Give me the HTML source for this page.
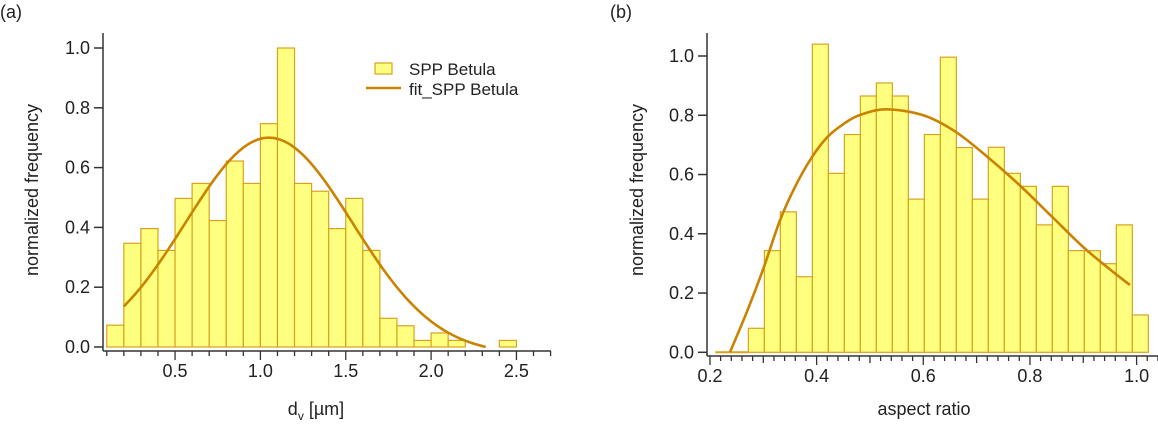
<!DOCTYPE html>
<html><head><meta charset="utf-8">
<style>
body{margin:0;background:#fff;width:1158px;height:422px;overflow:hidden}
svg text{font-family:"Liberation Sans",sans-serif;fill:#222}
</style></head>
<body>
<svg id="chart" width="1158" height="422" xmlns="http://www.w3.org/2000/svg"></svg>
<script>
// Panel A data
const binsA = [0.1,0.2,0.3,0.4,0.5,0.6,0.7,0.8,0.9,1.0,1.1,1.2,1.3,1.4,1.5,1.6,1.7,1.8,1.9,2.0,2.1,2.2,2.3,2.4];
const valuesA = [0.073,0.347,0.396,0.323,0.497,0.547,0.423,0.622,0.547,0.747,1.0,0.547,0.521,0.396,0.497,0.323,0.096,0.071,0.022,0.047,0.022,0,0,0.022];
const binWidthA = 0.1;
const fitParamsA = [0.725, 1.05, 0.49, -0.025]; // amplitude, center, sigma, offset
const fitRangeA = [0.2, 2.32];
const xTicksA = [0.5,1.0,1.5,2.0,2.5];
const yTicks = [0,0.2,0.4,0.6,0.8,1.0];
// Panel B data
const binsB = [0.272,0.302,0.332,0.362,0.392,0.422,0.452,0.482,0.512,0.542,0.572,0.602,0.632,0.662,0.692,0.722,0.752,0.782,0.812,0.842,0.872,0.902,0.932,0.962,0.992];
const valuesB = [0.081,0.343,0.474,0.255,1.04,0.604,0.735,0.865,0.909,0.865,0.517,0.735,0.996,0.691,0.517,0.692,0.604,0.56,0.43,0.56,0.343,0.343,0.299,0.43,0.126];
const binWidthB = 0.03;
const fitXB = [0.2375,0.27,0.301,0.331,0.36,0.391,0.42,0.45,0.48,0.53,0.6,0.66,0.72,0.78,0.84,0.9,0.95,0.9875];
const fitYB = [0,0.14,0.287,0.444,0.56,0.658,0.726,0.77,0.8,0.82,0.8,0.745,0.66,0.565,0.46,0.355,0.28,0.227];
const xTicksB = [0.2,0.4,0.6,0.8,1.0];

const NS="http://www.w3.org/2000/svg";
const svg=document.getElementById('chart');
function mk(tag,attrs,parent){const e=document.createElementNS(NS,tag);for(const k in attrs)e.setAttribute(k,attrs[k]);(parent||svg).appendChild(e);return e;}
const FILL="#ffff80",STROKE="#d9a21e",FIT="#c98300",FS=18;

function smoothPath(pts){
  let d='M'+pts[0][0]+','+pts[0][1];
  for(let i=0;i<pts.length-1;i++){
    const p0=pts[Math.max(0,i-1)],p1=pts[i],p2=pts[i+1],p3=pts[Math.min(pts.length-1,i+2)];
    const c1=[p1[0]+(p2[0]-p0[0])/6,p1[1]+(p2[1]-p0[1])/6];
    const c2=[p2[0]-(p3[0]-p1[0])/6,p2[1]-(p3[1]-p1[1])/6];
    d+=` C${c1[0]},${c1[1]} ${c2[0]},${c2[1]} ${p2[0]},${p2[1]}`;
  }
  return d;
}

function panel(o){
  const g=mk('g',{});
  
  
  const X=v=>o.x0+v*o.xs, Y=v=>o.y0-v*o.ys;
  o.bins.forEach((b,i)=>{
    const r=mk('rect',{x:X(b),y:Y(o.vals[i]),width:X(b+o.bw)-X(b),height:Y(0)-Y(o.vals[i]),fill:FILL,stroke:STROKE,'stroke-width':1.2},g);
    
    
  });
  if(o.base){const l=mk('line',{x1:X(o.base[0]),x2:X(o.base[1]),y1:Y(0),y2:Y(0),stroke:STROKE,'stroke-width':2},g);
    }
  const p=mk('path',{d:smoothPath(o.fit.map(q=>[X(q[0]),Y(q[1])])),fill:'none',stroke:FIT,'stroke-width':2.6,'stroke-linejoin':'round'},g);
  
  
  const ya=mk('g',{},g);
  
  mk('line',{x1:o.ax,x2:o.ax,y1:o.yTop,y2:o.xAxY,stroke:'#333','stroke-width':1.5},ya);
  yTicks.forEach(t=>{mk('line',{x1:o.ax-9,x2:o.ax,y1:Y(t),y2:Y(t),stroke:'#333','stroke-width':1.5},ya);
    const tx=mk('text',{x:o.ax-13,y:Y(t)+6,'text-anchor':'end','font-size':FS},ya);tx.textContent=t.toFixed(1);
    });
  const xa=mk('g',{},g);
  
  mk('line',{x1:o.ax,x2:o.xRight,y1:o.xAxY,y2:o.xAxY,stroke:'#333','stroke-width':1.5},xa);
  for(let v=o.minStart;v<=o.minEnd+1e-9;v+=o.minStep){
    const maj=o.xTicks.some(t=>Math.abs(t-v)<1e-6);
    const mid=o.midStep&&Math.abs(v/o.midStep-Math.round(v/o.midStep))<1e-6;
    mk('line',{x1:X(v),x2:X(v),y1:o.xAxY,y2:o.xAxY+(maj?9:(mid?7:5)),stroke:'#333','stroke-width':1.3},xa);
  }
  o.xTicks.forEach(t=>{const tx=mk('text',{x:X(t),y:o.xAxY+26,'text-anchor':'middle','font-size':FS},xa);tx.textContent=t.toFixed(1);
    });
  const yt=mk('text',{x:0,y:0,'text-anchor':'middle','font-size':FS,transform:`translate(${o.ytX},190) rotate(-90)`},g);
  yt.textContent='normalized frequency';
  
  const xt=mk('text',{x:o.xtX,y:415,'text-anchor':'middle','font-size':FS},g);
  xt.innerHTML=o.xTitle;
  
  const pl=mk('text',{x:o.lblX,y:18,'font-size':FS},g);pl.textContent=o.label;
  
}

const fitA=[];
for(let i=0;i<=80;i++){const x=fitRangeA[0]+(fitRangeA[1]-fitRangeA[0])*i/80;
  fitA.push([x,Math.max(0,fitParamsA[0]*Math.exp(-Math.pow(x-fitParamsA[1],2)/(2*fitParamsA[2]*fitParamsA[2]))+fitParamsA[3])]);}

panel({name:'panel-a',x0:89.7,xs:170.7,y0:347,ys:299,bins:binsA,vals:valuesA,bw:binWidthA,fit:fitA,
  ax:103,yTop:33,xAxY:351,xRight:551,minStart:0.1,minEnd:2.7,minStep:0.1,xTicks:xTicksA,
  ytX:38,xtX:316,xTitle:'d<tspan font-size="12" dy="5">v</tspan><tspan dy="-5"> [µm]</tspan>',lblX:0,label:'(a)'});
const fitB=fitXB.map((x,i)=>[x,fitYB[i]]);
panel({name:'panel-b',x0:603.3,xs:533.3,y0:352.3,ys:296.3,bins:binsB,vals:valuesB,bw:binWidthB,fit:fitB,base:[0.21,0.272],
  ax:707,yTop:33,xAxY:356,xRight:1158,minStart:0.2,minEnd:1.06,minStep:0.02,midStep:0.1,xTicks:xTicksB,
  ytX:643,xtX:924,xTitle:'aspect ratio',lblX:610,label:'(b)'});

const lg=mk('g',{});

const e1=mk('g',{},lg);
mk('rect',{x:375,y:63,width:17,height:11,fill:FILL,stroke:STROKE,'stroke-width':1.2},e1);
const t1=mk('text',{x:409,y:75,'font-size':17},e1);t1.textContent='SPP Betula';
const e2=mk('g',{},lg);
mk('line',{x1:366,x2:401,y1:88,y2:88,stroke:FIT,'stroke-width':2.6},e2);
const t2=mk('text',{x:409,y:95,'font-size':17},e2);t2.textContent='fit_SPP Betula';
</script>
</body></html>
